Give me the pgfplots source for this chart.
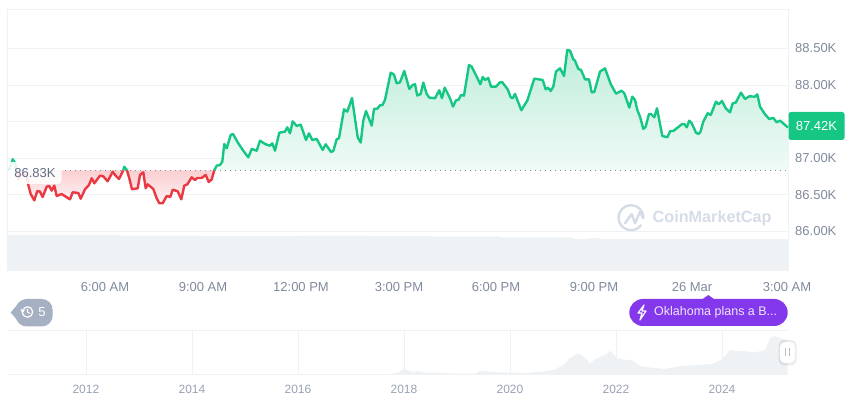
\documentclass[border=0pt]{standalone}
\usepackage{pgfplots}
\pgfplotsset{compat=1.18}
\usepackage{pgfplotstable}
\usepackage{fontspec}
\setmainfont{Liberation Sans}
\definecolor{cgreen}{HTML}{16C784}
\definecolor{cred}{HTML}{EA3943}
\definecolor{cgrid}{HTML}{EFF2F5}
\definecolor{cvol}{HTML}{EFF2F5}
\definecolor{ctick}{HTML}{808A9D}
\definecolor{cyear}{HTML}{98A1B3}
\definecolor{clabel}{HTML}{616E85}
\definecolor{cpurple}{HTML}{8338EC}
\definecolor{ctag}{HTML}{A6B0C3}
\definecolor{cmark}{HTML}{D5DCE8}
\definecolor{gtop}{HTML}{B4EAD5}
\definecolor{gbot}{HTML}{EDFAF5}
\definecolor{rtop}{HTML}{F9C6C9}
\definecolor{rbot}{HTML}{FEF0F1}
\newcommand{\fs}[1]{\fontsize{#1}{#1}\selectfont}
\pgfplotstableread{
x y
9.3 86.836
12.7 86.986
15 86.94
16.7 86.836
}\segA
\pgfplotstableread{
x y
16.7 86.836
18.3 86.71
21.7 86.78
26.7 86.76
28.3 86.635
30.7 86.512
34.3 86.425
37.3 86.553
40 86.544
42.7 86.471
46.7 86.612
49.3 86.621
51.7 86.558
54.3 86.626
56.7 86.485
61.7 86.512
66.7 86.467
70 86.439
72.7 86.535
78.3 86.526
80.7 86.448
85 86.576
89 86.635
91.7 86.726
94.3 86.658
100 86.763
103.3 86.753
107.7 86.685
112.7 86.817
115 86.772
119 86.717
123.3 86.836
}\segB
\pgfplotstableread{
x y
123.3 86.836
124.3 86.885
127 86.836
}\segC
\pgfplotstableread{
x y
127 86.836
129.3 86.726
132 86.576
137.7 86.59
140 86.772
143.3 86.808
145.7 86.59
147.7 86.644
153.3 86.58
156.7 86.453
159.3 86.385
162.7 86.385
166.7 86.485
170.3 86.471
172.7 86.571
177.7 86.549
181.3 86.439
184.3 86.626
187.3 86.644
191.7 86.74
195 86.703
197.3 86.731
201.7 86.731
205.7 86.772
208.7 86.676
211.7 86.712
214.3 86.836
}\segD
\pgfplotstableread{
x y
214.3 86.836
216.7 86.899
220 86.908
222.3 86.954
224.3 87.195
226.7 87.136
230.7 87.318
233 87.332
238.3 87.204
243.3 87.104
248.3 87.013
251.7 87.127
256.7 87.104
260 87.241
265 87.195
270 87.172
272.3 87.204
275 87.104
279.3 87.35
285 87.364
287.3 87.423
290 87.341
292.7 87.505
296.7 87.441
300.7 87.46
306 87.25
309 87.341
312.3 87.25
316.7 87.264
322.7 87.114
325.7 87.191
331 87.086
333.3 87.1
336.7 87.26
339 87.273
344 87.669
347.3 87.637
352 87.824
357.7 87.287
360.7 87.214
363.3 87.514
366 87.646
371.7 87.446
374 87.674
377.3 87.678
380 87.724
382.3 87.724
385 87.797
390.7 88.17
394 88.143
396.7 88.024
400 88.038
404.3 88.193
409.3 87.947
412.7 88.002
415 88.011
417.3 87.856
420.7 87.879
423.3 88.033
426.7 87.879
429.3 87.829
435 87.82
439.3 87.929
442 87.82
444.7 87.965
450 87.82
453 87.706
456 87.792
458.7 87.801
461 87.865
464 87.856
469 88.275
471.7 88.252
476.7 88.115
480.3 88.011
482.7 88.111
485 88.07
488.3 88.097
491 87.979
496 87.979
500 88.038
502.3 88.038
507.7 87.942
510.7 87.833
512.7 87.82
515 87.879
521.3 87.656
527.3 87.788
534.3 88.088
542.7 88.07
545.7 87.942
548 87.965
550.7 87.92
553.3 87.979
556 88.184
560 88.229
564 88.125
567.3 88.48
570 88.471
573.3 88.352
575 88.334
578.3 88.22
581 88.207
585 88.079
589 88.079
591.7 87.901
594.3 87.906
600 88.184
605 88.229
610.7 88.015
616 87.883
621.7 87.924
624.3 87.888
629.3 87.692
632.3 87.842
635 87.797
637.3 87.66
640 87.569
643.3 87.401
645.7 87.432
649 87.605
651 87.605
654.3 87.56
657 87.683
662.3 87.305
667.3 87.287
670.3 87.373
673.3 87.373
676.7 87.41
681.7 87.464
684.3 87.469
686.7 87.423
689.3 87.514
691.7 87.478
696 87.35
698.3 87.332
700.3 87.355
703.3 87.501
707.7 87.615
710.7 87.592
716 87.774
718.7 87.738
722 87.783
725.7 87.683
730 87.628
732.7 87.751
735.7 87.76
741 87.897
745 87.81
749.3 87.847
755 87.842
757.3 87.874
760 87.706
765 87.601
769.3 87.537
773.3 87.551
776.7 87.492
780 87.515
788 87.42
}\segE
\begin{document}
\begin{tikzpicture}[x=1pt,y=1pt]
\path[use as bounding box] (0,0) rectangle (860,401);
% volume band
\begin{axis}[at={(8pt,130pt)},anchor=south west,scale only axis,width=780pt,height=261pt,
  xmin=8,xmax=788,ymin=0,ymax=261,hide axis]
\addplot[const plot,fill=cvol,draw=none] coordinates {
(8,36)(120,35.3)(200,35)(300,35.3)(370,35)(430,34.5)(500,33.5)(573,32)(590,32.8)(600,31.8)(788,31.8)} \closedcycle;
\end{axis}
% price
\begin{axis}[at={(8pt,130pt)},anchor=south west,scale only axis,width=780pt,height=261pt,
  xmin=8,xmax=788,ymin=85.46,ymax=89.026,
  axis line style={cgrid,line width=1pt},
  ytick={86,86.5,87,87.5,88,88.5},
  yticklabels={86.00K,86.50K,87.00K,,88.00K,88.50K},
  yticklabel pos=right,
  ymajorgrids,major grid style={cgrid,line width=1pt},
  tick style={draw=none},major tick length=0pt,
  yticklabel style={anchor=west,inner sep=0pt,xshift=7pt,text=ctick,font=\fs{13}},
  xtick={105,203,301,399,496,594,692,787},
  xticklabels={6:00 AM,9:00 AM,12:00 PM,3:00 PM,6:00 PM,9:00 PM,26 Mar,3:00 AM},
  xticklabel style={anchor=north,inner sep=0pt,yshift=-11pt,text=ctick,font=\fs{13}},
  clip=false]
\addplot[draw=none,top color=gtop,bottom color=gbot,fill opacity=.85] table {\segA} -- cycle;
\addplot[draw=none,top color=rtop,bottom color=rbot,fill opacity=.85] table {\segB} -- cycle;
\addplot[draw=none,top color=gtop,bottom color=gbot,fill opacity=.85] table {\segC} -- cycle;
\addplot[draw=none,top color=rtop,bottom color=rbot,fill opacity=.85] table {\segD} -- cycle;
\addplot[draw=none,top color=gtop,bottom color=gbot,fill opacity=.85] table {\segE} -- (axis cs:788,86.836) -- cycle;
\addplot[ctick,line width=.9pt,dash pattern=on 1pt off 4pt] coordinates {(60,86.836)(788,86.836)};
\addplot[cgreen,line width=2.4pt,line join=round] table {\segA};
\addplot[cred,line width=2.4pt,line join=round] table {\segB};
\addplot[cgreen,line width=2.4pt,line join=round] table {\segC};
\addplot[cred,line width=2.4pt,line join=round] table {\segD};
\addplot[cgreen,line width=2.4pt,line join=round] table {\segE};
\node[fill=white,fill opacity=.88,text opacity=1,rounded corners=3pt,text=clabel,font=\fs{13},
  minimum width=53pt,minimum height=22pt,inner sep=0pt] at (axis cs:35,86.80) {86.83K};
\end{axis}
% mini overview
\begin{axis}[at={(8pt,26pt)},anchor=south west,scale only axis,width=780pt,height=44pt,
  xmin=2010.53,xmax=2025.245,ymin=0,ymax=116.6,
  axis line style={cgrid,line width=1pt},
  axis x line*=bottom,axis y line=none,
  xtick={2012,2014,2016,2018,2020,2022,2024},
  xticklabels={2012,2014,2016,2018,2020,2022,2024},
  xmajorgrids,major grid style={cgrid,line width=.8pt},
  tick style={draw=none},major tick length=0pt,
  xticklabel style={anchor=north,inner sep=0pt,yshift=-9.5pt,text=cyear,font=\fs{12}},
  clip=false]
\addplot[fill=cvol,draw=none] coordinates {
(2010.53,0)(2016.79,.5)(2017.36,1.3)(2017.74,2.7)(2017.89,6.6)(2018.0,16.7)(2018.15,8)(2018.26,10.6)(2018.4,6.6)(2018.68,6.6)(2018.87,4)(2019.34,3.6)(2019.43,10.6)(2019.81,7)(2020.0,7)(2020.28,5)(2020.66,10)(2020.85,14)(2021.04,30)(2021.13,45)(2021.28,58)(2021.42,45)(2021.51,30)(2021.6,42)(2021.79,53)(2021.89,64)(2022.02,45)(2022.17,40)(2022.3,40)(2022.45,24)(2022.64,20)(2022.92,16)(2023.21,24)(2023.58,27)(2023.81,29)(2024.0,42)(2024.15,66)(2024.43,63)(2024.62,60)(2024.81,66)(2024.91,98)(2025.0,103)(2025.09,98)(2025.24,92)} \closedcycle;
\end{axis}
\draw[cgrid,line width=1pt] (8,70) -- (788,70);
% last price tag
\node[fill=cgreen,rounded corners=2.5pt,text=white,font=\fs{13},minimum width=56pt,minimum height=28pt,inner sep=0pt] at (816.5,275) {87.42K};
% watermark
\draw[cmark,line width=2.4pt] (631,183.3) ++(0:12.5) arc (0:325:12.5);
\draw[cmark,line width=2.4pt,line join=round,line cap=round] (625,177.7) -- (631.7,187) -- (635,177.7) -- (640,189.3) -- (643.3,182.7);
\node[anchor=west,inner sep=0pt,text=cmark,font=\fs{16.2}\bfseries] at (652.5,182.5) {CoinMarketCap};
% history tag
\fill[ctag,rounded corners=11pt] (15.7,74.5) rectangle (52.7,102);
\fill[ctag] (18,97) -- (10.7,88.5) -- (18,80) -- cycle;
\draw[white,line width=1.2pt] (27.5,89) ++(140:5.2) arc (140:-190:5.2);
\draw[white,line width=1.1pt] (27.5,92) -- (27.5,89) -- (30,87.5);
\fill[white] (20.5,91.5) -- (25,91.5) -- (22.5,87.5) -- cycle;
\node[text=white,font=\fs{13},inner sep=0pt] at (42,88.5) {5};
% news pill
\fill[cpurple,rounded corners=13.5pt] (629.3,75) rectangle (787.7,102);
\fill[cpurple] (702,101.5) -- (708.3,106) -- (714.5,101.5) -- cycle;
\draw[white,line width=1.2pt,line join=round] (644,96) -- (638,88) -- (642,88) -- (640,81) -- (646,90) -- (642,90) -- cycle;
\node[anchor=west,inner sep=0pt,text=white!88!cpurple,font=\fs{12.5}] at (654,88.5) {Oklahoma plans a B...};
% slider handle
\fill[black,opacity=.08,rounded corners=6pt] (778.5,35.5) rectangle (796.5,61);
\fill[white,rounded corners=5pt] (780,38) rectangle (795,59);
\fill[ctag!80] (785,44.5) rectangle (786.3,52.5);
\fill[ctag!80] (788.6,44.5) rectangle (789.9,52.5);
\end{tikzpicture}
\end{document}
